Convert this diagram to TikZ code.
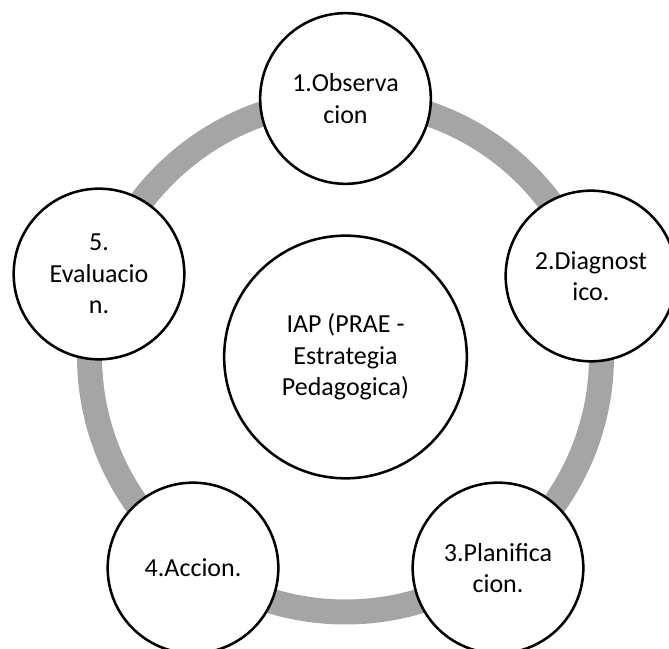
\documentclass[tikz,border=0pt]{standalone}
\usepackage{fontspec}
\setmainfont{Carlito}
\usetikzlibrary{positioning}
\definecolor{ringgray}{HTML}{A5A5A5}
\tikzset{
  stage/.style={circle, draw=black, line width=1.9pt, fill=white, minimum size=128pt, inner sep=0pt, align=center, font=\fontsize{19.5}{23.5}\selectfont},
  hub/.style={stage, minimum size=182pt}
}

\begin{document}
\begin{tikzpicture}[x=0.75pt, y=-0.75pt]
  \clip (0,0) rectangle (669,649);
  % Draw the gray ring behind the steps
  \coordinate (ringc) at (345.5,356);
  \draw[ringgray, line width=18.75pt] (ringc) circle [radius=192pt];

  % Center node
  \node[hub] (iap) at (345.5,357) {IAP (PRAE -\\Estrategia\\Pedagogica)};

  % Steps around the ring
  \node[stage] (obs) at (345.5,98.5) {1.Observa\\cion};
  \node[stage] (diag) at (591,276) {2.Diagnost\\ico.};
  \node[stage] (plan) at (498,568) {3.Planifica\\cion.};
  \node[stage] (acc) at (193,568) {4.Accion.};
  \node[stage] (eval) at (99,274) {5.\\Evaluacio\\n.};
\end{tikzpicture}
\end{document}
